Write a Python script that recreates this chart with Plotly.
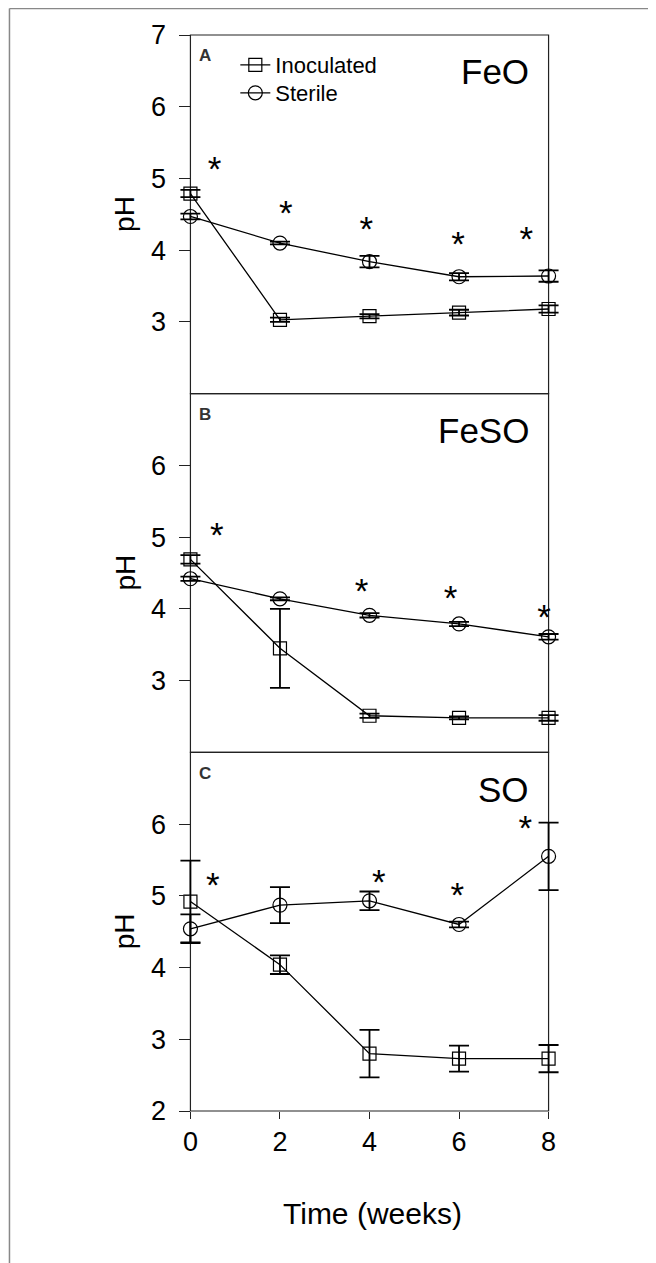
import plotly.graph_objects as go
from plotly.subplots import make_subplots

# ---------------- data ----------------
weeks = [0, 2, 4, 6, 8]

feo_inoc = [4.79, 3.03, 3.08, 3.13, 3.18]
feo_inoc_err = [0.05, 0.03, 0.03, 0.04, 0.05]
feo_ster = [4.47, 4.10, 3.84, 3.63, 3.64]
feo_ster_err = [0.04, 0.02, 0.08, 0.05, 0.08]

feso_inoc = [4.69, 3.45, 2.51, 2.48, 2.48]
feso_inoc_err = [0.06, 0.55, 0.03, 0.02, 0.04]
feso_ster = [4.42, 4.14, 3.91, 3.79, 3.61]
feso_ster_err = [0.03, 0.02, 0.03, 0.03, 0.04]

so_inoc = [4.92, 4.04, 2.80, 2.73, 2.73]
so_inoc_err = [0.57, 0.13, 0.33, 0.18, 0.19]
so_ster = [4.54, 4.87, 4.93, 4.60, 5.55]
so_ster_err = [0.20, 0.25, 0.13, 0.04, 0.47]

# significance asterisks (x in weeks, y in pH)
star_a_x = [0.54, 2.13, 3.93, 5.98, 7.50]
star_a_y = [5.18, 4.58, 4.35, 4.14, 4.21]
star_b_x = [0.59, 3.82, 5.81, 7.90]
star_b_y = [5.09, 4.31, 4.20, 3.94]
star_c_x = [0.50, 4.21, 5.96, 7.48]
star_c_y = [5.21, 5.25, 5.07, 6.00]

panel_letters = ["A", "B", "C"]
panel_names = ["FeO", "FeSO", "SO"]
series_names = ["Inoculated", "Sterile"]
x_ticks = [0, 2, 4, 6, 8]
y_ticks_per_panel = [[3, 4, 5, 6, 7], [3, 4, 5, 6], [2, 3, 4, 5, 6]]
X_MIN, X_MAX = 0, 8
Y_MIN, Y_MAX = 2, 7

# ---------------- geometry ----------------
OFF = 8                       # browser body margin
W, H = 656 - OFF, 1263 - OFF
PAD = 0.3                     # x padding (weeks) so end error bars are not clipped
UNIT = 359 / 8                # px per week
ML = 190 - OFF - PAD * UNIT
MR = W - (549 - OFF + PAD * UNIT)
MT = 35 - OFF
PH_ = 1076
MB = H - MT - PH_
PW = W - ML - MR
FONT = "Liberation Sans, Arial, Helvetica, sans-serif"


def px(ix):  # image x pixel -> paper fraction
    return (ix - OFF - ML) / PW


def py(iy):  # image y pixel -> paper fraction
    return (H - MB - (iy - OFF)) / PH_


fig = make_subplots(rows=3, cols=1, shared_xaxes=True, vertical_spacing=0)

panels = [
    (feo_inoc, feo_inoc_err, feo_ster, feo_ster_err, star_a_x, star_a_y),
    (feso_inoc, feso_inoc_err, feso_ster, feso_ster_err, star_b_x, star_b_y),
    (so_inoc, so_inoc_err, so_ster, so_ster_err, star_c_x, star_c_y),
]

STAR_OFFSET = 0.1  # text box centre vs. visual centre of "*"
yaxis_pos = PAD / (X_MAX - X_MIN + 2 * PAD)

for i, (inoc, inoc_e, ster, ster_e, sx, sy) in enumerate(panels):
    row = i + 1
    show = (i == 0)
    fig.add_trace(go.Scatter(
        x=weeks, y=inoc, name=series_names[0], mode="lines+markers",
        line=dict(color="black", width=1.3),
        marker=dict(symbol="square-open", size=13, color="black", line=dict(width=1.2)),
        error_y=dict(type="data", array=inoc_e, visible=True, color="black",
                     thickness=1.8, width=10),
        cliponaxis=False, showlegend=show, legend="legend"),
        row=row, col=1)
    fig.add_trace(go.Scatter(
        x=weeks, y=ster, name=series_names[1], mode="lines+markers",
        line=dict(color="black", width=1.3),
        marker=dict(symbol="circle-open", size=14, color="black", line=dict(width=1.2)),
        error_y=dict(type="data", array=ster_e, visible=True, color="black",
                     thickness=1.8, width=10),
        cliponaxis=False, showlegend=show, legend="legend2"),
        row=row, col=1)
    fig.add_trace(go.Scatter(
        x=sx, y=[v - STAR_OFFSET for v in sy], mode="text",
        text=["*"] * len(sx), textposition="middle center",
        textfont=dict(family=FONT, size=35, color="black"),
        showlegend=False, hoverinfo="skip", cliponaxis=False),
        row=row, col=1)

    yname = "yaxis" if row == 1 else f"yaxis{row}"
    xname = "xaxis" if row == 1 else f"xaxis{row}"
    fig.layout[yname].update(
        range=[Y_MIN, Y_MAX], tickvals=y_ticks_per_panel[i], ticks="outside", ticklen=11,
        tickwidth=1.2, tickcolor="#222", showline=False,
        anchor="free", position=yaxis_pos,
        showgrid=False, zeroline=False,
        tickfont=dict(family=FONT, size=27, color="black"), ticklabelstandoff=8)
    fig.layout[xname].update(
        range=[X_MIN - PAD, X_MAX + PAD], tickvals=x_ticks, showline=False,
        showgrid=False, zeroline=False,
        ticks="outside" if row == 3 else "", ticklen=7, tickwidth=1.2, tickcolor="#222",
        showticklabels=(row == 3),
        tickfont=dict(family=FONT, size=27, color="black"))

    xr = "x" if row == 1 else f"x{row}"
    yref_dom = "y domain" if row == 1 else f"y{row} domain"
    xref_dom = "paper"
    # panel frame
    fig.add_shape(type="rect", xref=xr, yref=yref_dom, x0=X_MIN, x1=X_MAX, y0=0, y1=1,
                  line=dict(color="#222", width=1.2), fillcolor="rgba(0,0,0,0)",
                  layer="below")
    fig.add_annotation(text=f"<b>{panel_letters[i]}</b>", xref=xref_dom, yref=yref_dom,
                       x=px(197), y=1 - 21 / 358.7, xanchor="left", yanchor="middle",
                       showarrow=False, font=dict(family=FONT, size=17, color="#333"))
    fig.add_annotation(text=panel_names[i], xref=xref_dom, yref=yref_dom,
                       x=px(531), y=1 - 37 / 358.7, xanchor="right", yanchor="middle",
                       showarrow=False, font=dict(family=FONT, size=35, color="black"))
    fig.add_annotation(text="pH", xref="paper", yref=yref_dom,
                       x=px(124), y=0.5, xanchor="center", yanchor="middle",
                       textangle=-90, showarrow=False,
                       font=dict(family=FONT, size=28, color="black"))

fig.add_annotation(text="Time (weeks)", xref="paper", yref="paper",
                   x=px(373), y=py(1213), xanchor="center",
                   yanchor="middle", showarrow=False,
                   font=dict(family=FONT, size=30, color="black"))

# page frame fragment (top and left edges)
fig.add_shape(type="line", xref="paper", yref="paper", x0=px(8.6), x1=px(700),
              y0=py(8.6), y1=py(8.6), line=dict(color="#888", width=1.5))
fig.add_shape(type="line", xref="paper", yref="paper", x0=px(8.6), x1=px(8.6),
              y0=py(8.6), y1=py(1300), line=dict(color="#888", width=1.5))

fig.update_layout(
    width=W, height=H, margin=dict(l=ML, r=MR, t=MT, b=MB, autoexpand=False),
    paper_bgcolor="white", plot_bgcolor="white",
    font=dict(family=FONT, color="black"),
    showlegend=True,
    legend=dict(x=px(235), y=py(65), xanchor="left", yanchor="middle",
                bgcolor="rgba(0,0,0,0)", borderwidth=0,
                font=dict(family=FONT, size=22, color="black")),
    legend2=dict(x=px(235), y=py(93), xanchor="left", yanchor="middle",
                 bgcolor="rgba(0,0,0,0)", borderwidth=0,
                 font=dict(family=FONT, size=22, color="black")),
)

fig.write_html("out.html")
